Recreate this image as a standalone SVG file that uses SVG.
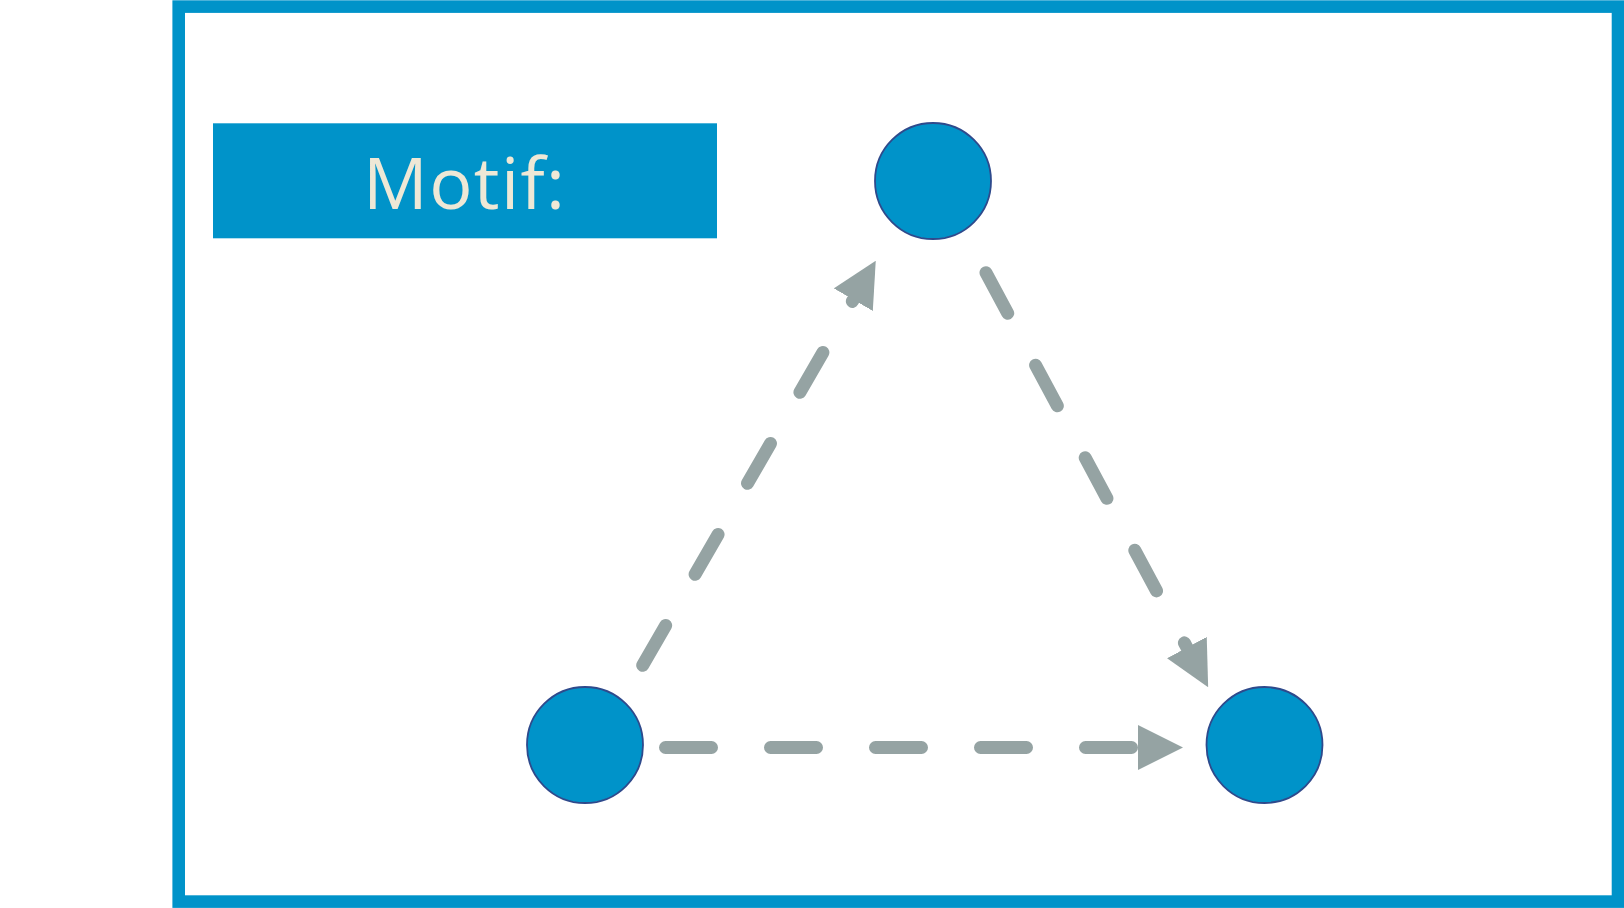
<svg xmlns="http://www.w3.org/2000/svg" width="1624" height="908" viewBox="0 0 1624 908">
  <style>
    .frame { fill: #ffffff; stroke: #0093C9; stroke-width: 12.6; }
    .title-box { fill: #0093C9; }
    .title { fill: #EEE8D6; font-family: "Open Sans", "Liberation Sans", sans-serif; font-size: 72px; }
    .node { fill: #0093C9; stroke: #2E4A8C; stroke-width: 1.8; }
    .edge { fill: none; stroke: #95A3A3; stroke-width: 13; stroke-linecap: round; stroke-dasharray: 46 59; marker-end: url(#arrow); }
  </style>
  <defs>
    <marker id="arrow" markerUnits="userSpaceOnUse" viewBox="0 0 45 45" markerWidth="45" markerHeight="45" refX="0" refY="22.5" orient="auto">
      <path d="M0,0 L45,22.5 L0,45 Z" fill="#95A3A3"/>
    </marker>
  </defs>
  <rect x="0" y="0" width="1624" height="908" fill="#ffffff"/>
  <rect class="frame" x="178.7" y="6.6" width="1439.3" height="895"/>
  <g id="title">
    <rect class="title-box" x="213" y="123.3" width="504" height="115"/>
    <text class="title" x="363" y="209" textLength="202" lengthAdjust="spacing">Motif:</text>
  </g>
  <g id="connectors">
    <path class="edge" d="M642.7,665.3 L853.3,299.7"/>
    <path class="edge" d="M986,272.7 L1186.9,647.5"/>
    <path class="edge" d="M665.5,747.5 L1138,747.5"/>
  </g>
  <g id="node-top">
    <circle class="node" cx="933" cy="181" r="58"/>
  </g>
  <g id="node-left">
    <circle class="node" cx="585" cy="745" r="58"/>
  </g>
  <g id="node-right">
    <circle class="node" cx="1264.5" cy="745" r="58"/>
  </g>
</svg>
